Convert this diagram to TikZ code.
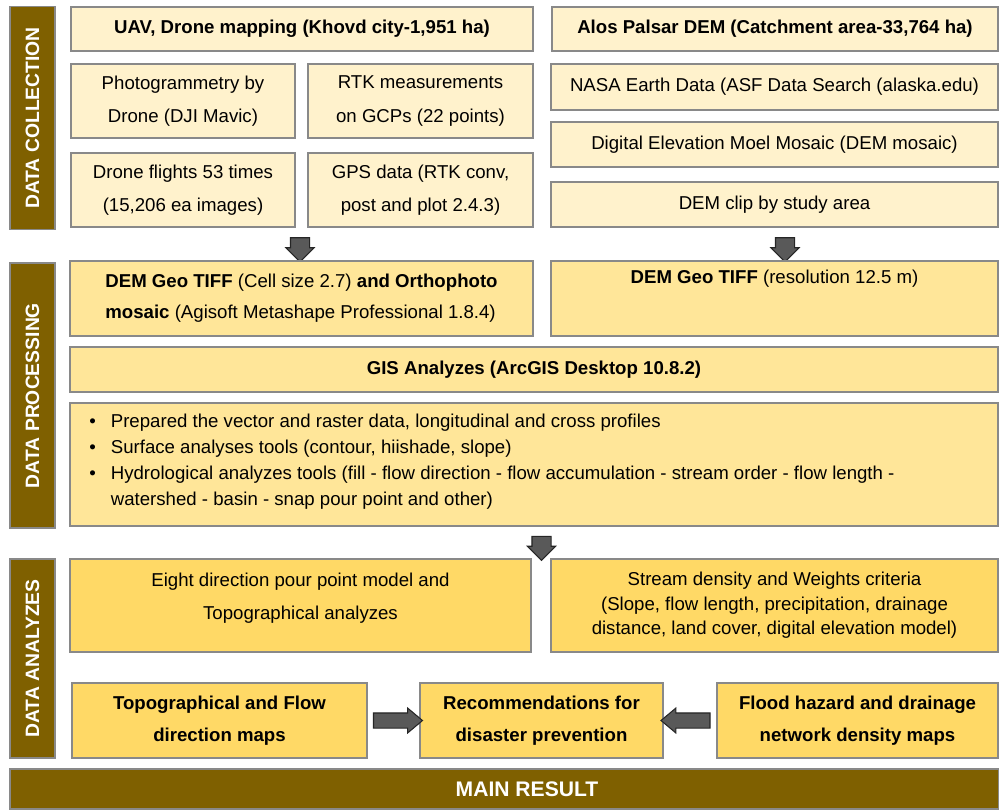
\documentclass[tikz,border=0pt]{standalone}
\usepackage{fontspec}
\setmainfont{Liberation Sans}
\usetikzlibrary{positioning}
\usetikzlibrary{shapes.arrows}
\usetikzlibrary{calc}

\definecolor{barbrown}{HTML}{7F6000}
\definecolor{palefill}{HTML}{FFF2CC}
\definecolor{procfill}{HTML}{FFE699}
\definecolor{anafill}{HTML}{FFD966}
\definecolor{edgegray}{HTML}{898989}
\definecolor{arrowgray}{HTML}{595959}

\tikzset{
    box/.style = {draw=edgegray, line width=0.8pt, inner sep=0pt, align=center, font=\fontsize{10.6}{18.8}\selectfont},
    collbox/.style = {box, fill=palefill},
    procbox/.style = {box, fill=procfill},
    anabox/.style = {box, fill=anafill},
    sidebar/.style = {draw=edgegray, line width=0.8pt, fill=barbrown, inner sep=0pt, text=white, font=\fontsize{11}{13}\selectfont\bfseries},
    downarr/.style = {single arrow, rotate=-90, draw=black!85, fill=arrowgray, line width=0.6pt, inner sep=0pt, text height=0.18cm, text depth=0.18cm, minimum height=0.48cm, single arrow head extend=0.09cm},
    sidearr/.style = {single arrow, draw=black!85, fill=arrowgray, line width=0.6pt, inner sep=0pt, text height=0.14cm, text depth=0.14cm, minimum height=0.98cm, single arrow head extend=0.10cm, single arrow tip angle=80},
}

\begin{document}
\begin{tikzpicture}
    \useasboundingbox (0,0) rectangle (19.98,-16.18);
    % side bars
    \node[sidebar, rotate=90, minimum width=4.46cm, minimum height=0.90cm] (bcoll) at (0.65,-2.36) {DATA COLLECTION};
    \node[sidebar, rotate=90, minimum width=5.30cm, minimum height=0.90cm] (bproc) at (0.65,-7.91) {DATA PROCESSING};
    \node[sidebar, rotate=90, minimum width=3.98cm, minimum height=0.90cm] (bana) at (0.65,-13.17) {DATA ANALYZES};

    % data collection
    \node[collbox, minimum width=9.24cm, minimum height=0.88cm] (cuav) at (6.04,-0.58) {\textbf{UAV, Drone mapping (Khovd city-1,951 ha)}};
    \node[collbox, minimum width=8.92cm, minimum height=0.88cm] (calos) at (15.50,-0.58) {\textbf{Alos Palsar DEM (Catchment area-33,764 ha)}};
    \node[collbox, minimum width=4.48cm, minimum height=1.48cm] (cphoto) at (3.66,-2.02) {Photogrammetry by\\Drone (DJI Mavic)};
    \node[collbox, minimum width=4.50cm, minimum height=1.48cm] (crtk) at (8.41,-2.02) {RTK measurements\\on GCPs (22 points)};
    \node[collbox, minimum width=4.48cm, minimum height=1.48cm] (cflight) at (3.66,-3.80) {Drone flights 53 times\\(15,206 ea images)};
    \node[collbox, minimum width=4.50cm, minimum height=1.48cm] (cgps) at (8.41,-3.80) {GPS data (RTK conv,\\post and plot 2.4.3)};
    \node[collbox, minimum width=8.94cm, minimum height=0.92cm] (cnasa) at (15.49,-1.74) {NASA Earth Data (ASF Data Search (alaska.edu)};
    \node[collbox, minimum width=8.94cm, minimum height=0.90cm] (cmosaic) at (15.49,-2.89) {Digital Elevation Moel Mosaic (DEM mosaic)};
    \node[collbox, minimum width=8.94cm, minimum height=0.90cm] (cclip) at (15.49,-4.09) {DEM clip by study area};

    \node[downarr] (arrL) at (6.00,-4.90) {};
    \node[downarr] (arrR) at (15.70,-4.90) {};

    % data processing
    \node[procbox, minimum width=9.26cm, minimum height=1.50cm, align=left, font=\fontsize{10.6}{17.6}\selectfont] (pdemL) at (6.03,-5.97) {\textbf{DEM Geo TIFF} (Cell size 2.7) \textbf{and Orthophoto}\\\textbf{mosaic} (Agisoft Metashape Professional 1.8.4)};
    \node[procbox, minimum width=8.94cm, minimum height=1.50cm] (pdemR) at (15.49,-5.97) {\textbf{DEM Geo TIFF} (resolution 12.5 m)\\\strut};
    \node[procbox, minimum width=18.56cm, minimum height=0.90cm] (pgis) at (10.68,-7.39) {\textbf{GIS Analyzes (ArcGIS Desktop 10.8.2)}};
    \node[procbox, minimum width=18.56cm, minimum height=2.46cm] (pbul) at (10.68,-9.29) {};
    \node[anchor=west, inner sep=0pt, font=\fontsize{10.6}{12}\selectfont] (pbultxt) at (1.78,-9.22) {\renewcommand{\arraystretch}{1.23}%
        \begin{tabular}{@{}l@{\hspace{0.30cm}}l@{}}
        \textbullet & Prepared the vector and raster data, longitudinal and cross profiles\\
        \textbullet & Surface analyses tools (contour, hiishade, slope)\\
        \textbullet & Hydrological analyzes tools (fill - flow direction - flow accumulation - stream order - flow length -\\
                    & watershed - basin - snap pour point and other)
        \end{tabular}};

    \node[downarr] (arrM) at (10.83,-10.87) {};

    % data analyzes
    \node[anabox, minimum width=9.22cm, minimum height=1.86cm] (eight) at (6.01,-12.11) {};
    \node[align=center, inner sep=0pt, font=\fontsize{10.6}{18.4}\selectfont] (eighttxt) at ([yshift=0.15cm]eight.center) {Eight direction pour point model and\\Topographical analyzes};
    \node[anabox, minimum width=8.94cm, minimum height=1.86cm, font=\fontsize{10.6}{13.9}\selectfont] (stream) at (15.49,-12.11) {Stream density and Weights criteria\\(Slope, flow length, precipitation, drainage\\distance, land cover, digital elevation model)};
    \node[anabox, minimum width=5.90cm, minimum height=1.50cm, font=\fontsize{10.6}{18.2}\selectfont\bfseries] (topo) at (4.39,-14.41) {Topographical and Flow\\direction maps};
    \node[anabox, minimum width=4.86cm, minimum height=1.50cm, font=\fontsize{10.6}{18.2}\selectfont\bfseries] (recom) at (10.83,-14.41) {Recommendations for\\disaster prevention};
    \node[anabox, minimum width=5.62cm, minimum height=1.50cm, font=\fontsize{10.6}{18.2}\selectfont\bfseries] (flood) at (17.15,-14.41) {Flood hazard and drainage\\network density maps};

    \node[sidearr] (arrTR) at ($(topo.east)!0.5!(recom.west)$) {};
    \node[sidearr, rotate=180] (arrFR) at ($(recom.east)!0.5!(flood.west)$) {};

    % main result
    \node[sidebar, minimum width=19.78cm, minimum height=0.80cm] (main) at (10.09,-15.78) {};
    \node[text=white, font=\fontsize{12}{14}\selectfont\bfseries] (maintxt) at ([xshift=0.45cm]main.center) {MAIN RESULT};
\end{tikzpicture}
\end{document}
